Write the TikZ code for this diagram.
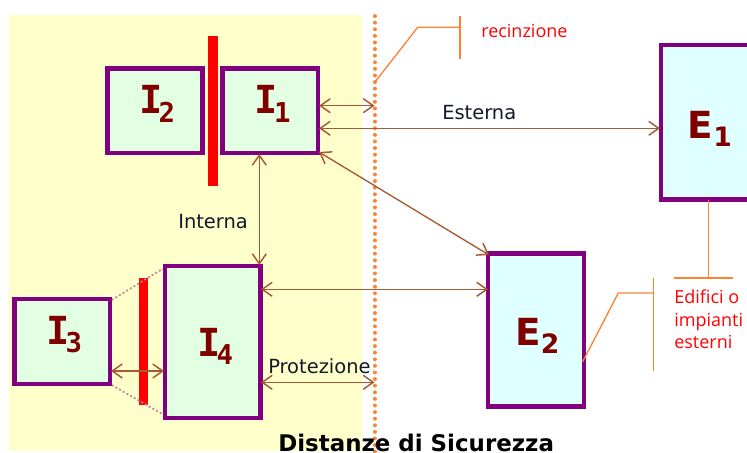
\documentclass[tikz,border=0pt]{standalone}
\usepackage{fontspec}
\setmainfont{DejaVu Sans}
\newfontfamily\boxfont{DejaVu Sans Mono}
\newfontfamily\redfont{Open Sans}
\usetikzlibrary{arrows.meta}
\definecolor{zona}{RGB}{255,255,204}
\definecolor{viola}{RGB}{128,0,128}
\definecolor{verdino}{RGB}{227,255,227}
\definecolor{azzurro}{RGB}{224,255,255}
\definecolor{scuro}{RGB}{128,0,0}
\definecolor{linea}{RGB}{165,90,50}
\definecolor{arancio}{RGB}{255,130,50}
\definecolor{puntini}{RGB}{200,130,160}
\definecolor{testo}{RGB}{20,25,40}
\tikzset{
 x=0.75pt,y=-0.75pt,
 boxI/.style={draw=viola,line width=3.3pt,fill=verdino,inner sep=0pt},
 boxE/.style={draw=viola,line width=3.3pt,fill=azzurro,inner sep=0pt},
 bar/.style={fill=red,draw=none,inner sep=0pt},
 conn/.style={draw=linea,line width=1pt,{Straight Barb[length=7.5pt,width=10.5pt,line width=1.1pt]}-{Straight Barb[length=7.5pt,width=10.5pt,line width=1.1pt]}},
 lab/.style={text=testo,font=\fontsize{14.6}{16}\selectfont,inner sep=0pt},
 redlab/.style={text=red,font=\redfont\fontsize{13.5}{16.9}\selectfont,inner sep=0pt},
 callout/.style={draw=arancio,line width=1pt},
 dotted link/.style={draw=puntini,line width=1.3pt,dash pattern=on 1.5pt off 1.7pt},
 bigI/.style={text=scuro,font=\boxfont\bfseries\fontsize{29}{30}\selectfont,inner sep=0pt,anchor=base west},
 bigE/.style={text=scuro,font=\bfseries\fontsize{28}{30}\selectfont,inner sep=0pt,anchor=base west},
}
\newcommand{\boxlab}[2]{#1\kern-3pt\raisebox{-6.6pt}{\fontsize{20.5}{21}\selectfont #2}}
\newcommand{\boxlabE}[2]{#1\kern0pt\raisebox{-6.6pt}{\fontsize{20}{21}\selectfont #2}}
\begin{document}
\begin{tikzpicture}
\useasboundingbox (0,0) rectangle (747,453);
\fill[white] (0,0) rectangle (747,453);
\fill[zona] (9,15) rectangle (362.3,450.7);
% fence
\coordinate (f1) at (374.7,16); \coordinate (f2) at (374.7,452);
\draw[draw=arancio,line width=2.8pt,line cap=round,dash pattern=on 0.1pt off 4.85pt] (f1) -- (f2);
% bars
\node[bar,minimum width=7.3pt,minimum height=112.5pt] (b1) at (213.2,111) {};
\node[bar,minimum width=7.2pt,minimum height=95.7pt] (b2) at (143.5,341.5) {};
% dotted
\coordinate (d1) at (111.7,300); \coordinate (d2) at (164,268);
\coordinate (d3) at (111.7,385); \coordinate (d4) at (164,415);
\draw[dotted link] (d1) -- (d2);
\draw[dotted link] (d3) -- (d4);
% boxes
\node[boxI,minimum width=71.3pt,minimum height=63.7pt] (I2) at (154.9,110.8) {};
\node[boxI,minimum width=71.7pt,minimum height=63.7pt] (I1) at (270.2,110.8) {};
\node[boxI,minimum width=71.7pt,minimum height=63.7pt] (I3) at (62.3,341.5) {};
\node[boxI,minimum width=71.7pt,minimum height=114pt] (I4) at (212.5,341.7) {};
\node[boxE,minimum width=71.7pt,minimum height=115.8pt] (E1) at (708.5,122.2) {};
\node[boxE,minimum width=71.7pt,minimum height=115pt] (E2) at (536,330) {};
\node[bigI] (tI2) at (139,113.7) {\boxlab{I}{2}};
\node[bigI] (tI1) at (254.5,113.7) {\boxlab{I}{1}};
\node[bigI] (tI3) at (46,344) {\boxlab{I}{3}};
\node[bigI] (tI4) at (197,356) {\boxlab{I}{4}};
\node[bigE] (tE1) at (687.5,138) {\boxlabE{E}{1}};
\node[bigE] (tE2) at (515,345) {\boxlabE{E}{2}};
% connectors
\coordinate (e1) at (374.5,105.7);
\coordinate (e2) at (374.5,382.3);
\draw[conn] (319,105.7) -- (e1);
\draw[conn] (319,128.3) -- (660,128.3);
\draw[conn] (319,152) -- (489,255);
\draw[conn] (259.3,154) -- (259.3,265);
\draw[conn] (261,289.3) -- (488,289.3);
\draw[conn] (261,382.3) -- (e2);
\draw[conn] (111,371) -- (164,371);
% callouts
\coordinate (c1) at (375,82); \coordinate (c2) at (417.7,27.3); \coordinate (c3) at (460,27.3);
\coordinate (c4) at (460,16); \coordinate (c5) at (460,59);
\draw[callout] (c1) -- (c2) -- (c3); \draw[callout] (c4) -- (c5);
\coordinate (c6) at (708.7,200); \coordinate (c7) at (708.7,278);
\coordinate (c8) at (674,278); \coordinate (c9) at (733,278);
\draw[callout] (c6) -- (c7); \draw[callout] (c8) -- (c9);
\coordinate (c10) at (582.7,361.7); \coordinate (c11) at (618.3,293); \coordinate (c12) at (653.5,293);
\coordinate (c13) at (653.5,278); \coordinate (c14) at (653.5,371);
\draw[callout] (c10) -- (c11) -- (c12); \draw[callout] (c13) -- (c14);
% labels
\node[redlab,anchor=west] (r) at (481,31) {recinzione};
\node[lab,anchor=west] (es) at (442,113) {Esterna};
\node[lab,anchor=west] (in) at (178,222) {Interna};
\node[lab,anchor=west] (pr) at (268,366) {Protezione};
\node[redlab,anchor=west,align=left] (ed) at (674,319.5) {Edifici o\\impianti\\esterni};
\node[anchor=base west,inner sep=0pt,font=\bfseries\fontsize{17.2}{18}\selectfont] (ti) at (278,451.5) {Distanze di Sicurezza};
\end{tikzpicture}
\end{document}
